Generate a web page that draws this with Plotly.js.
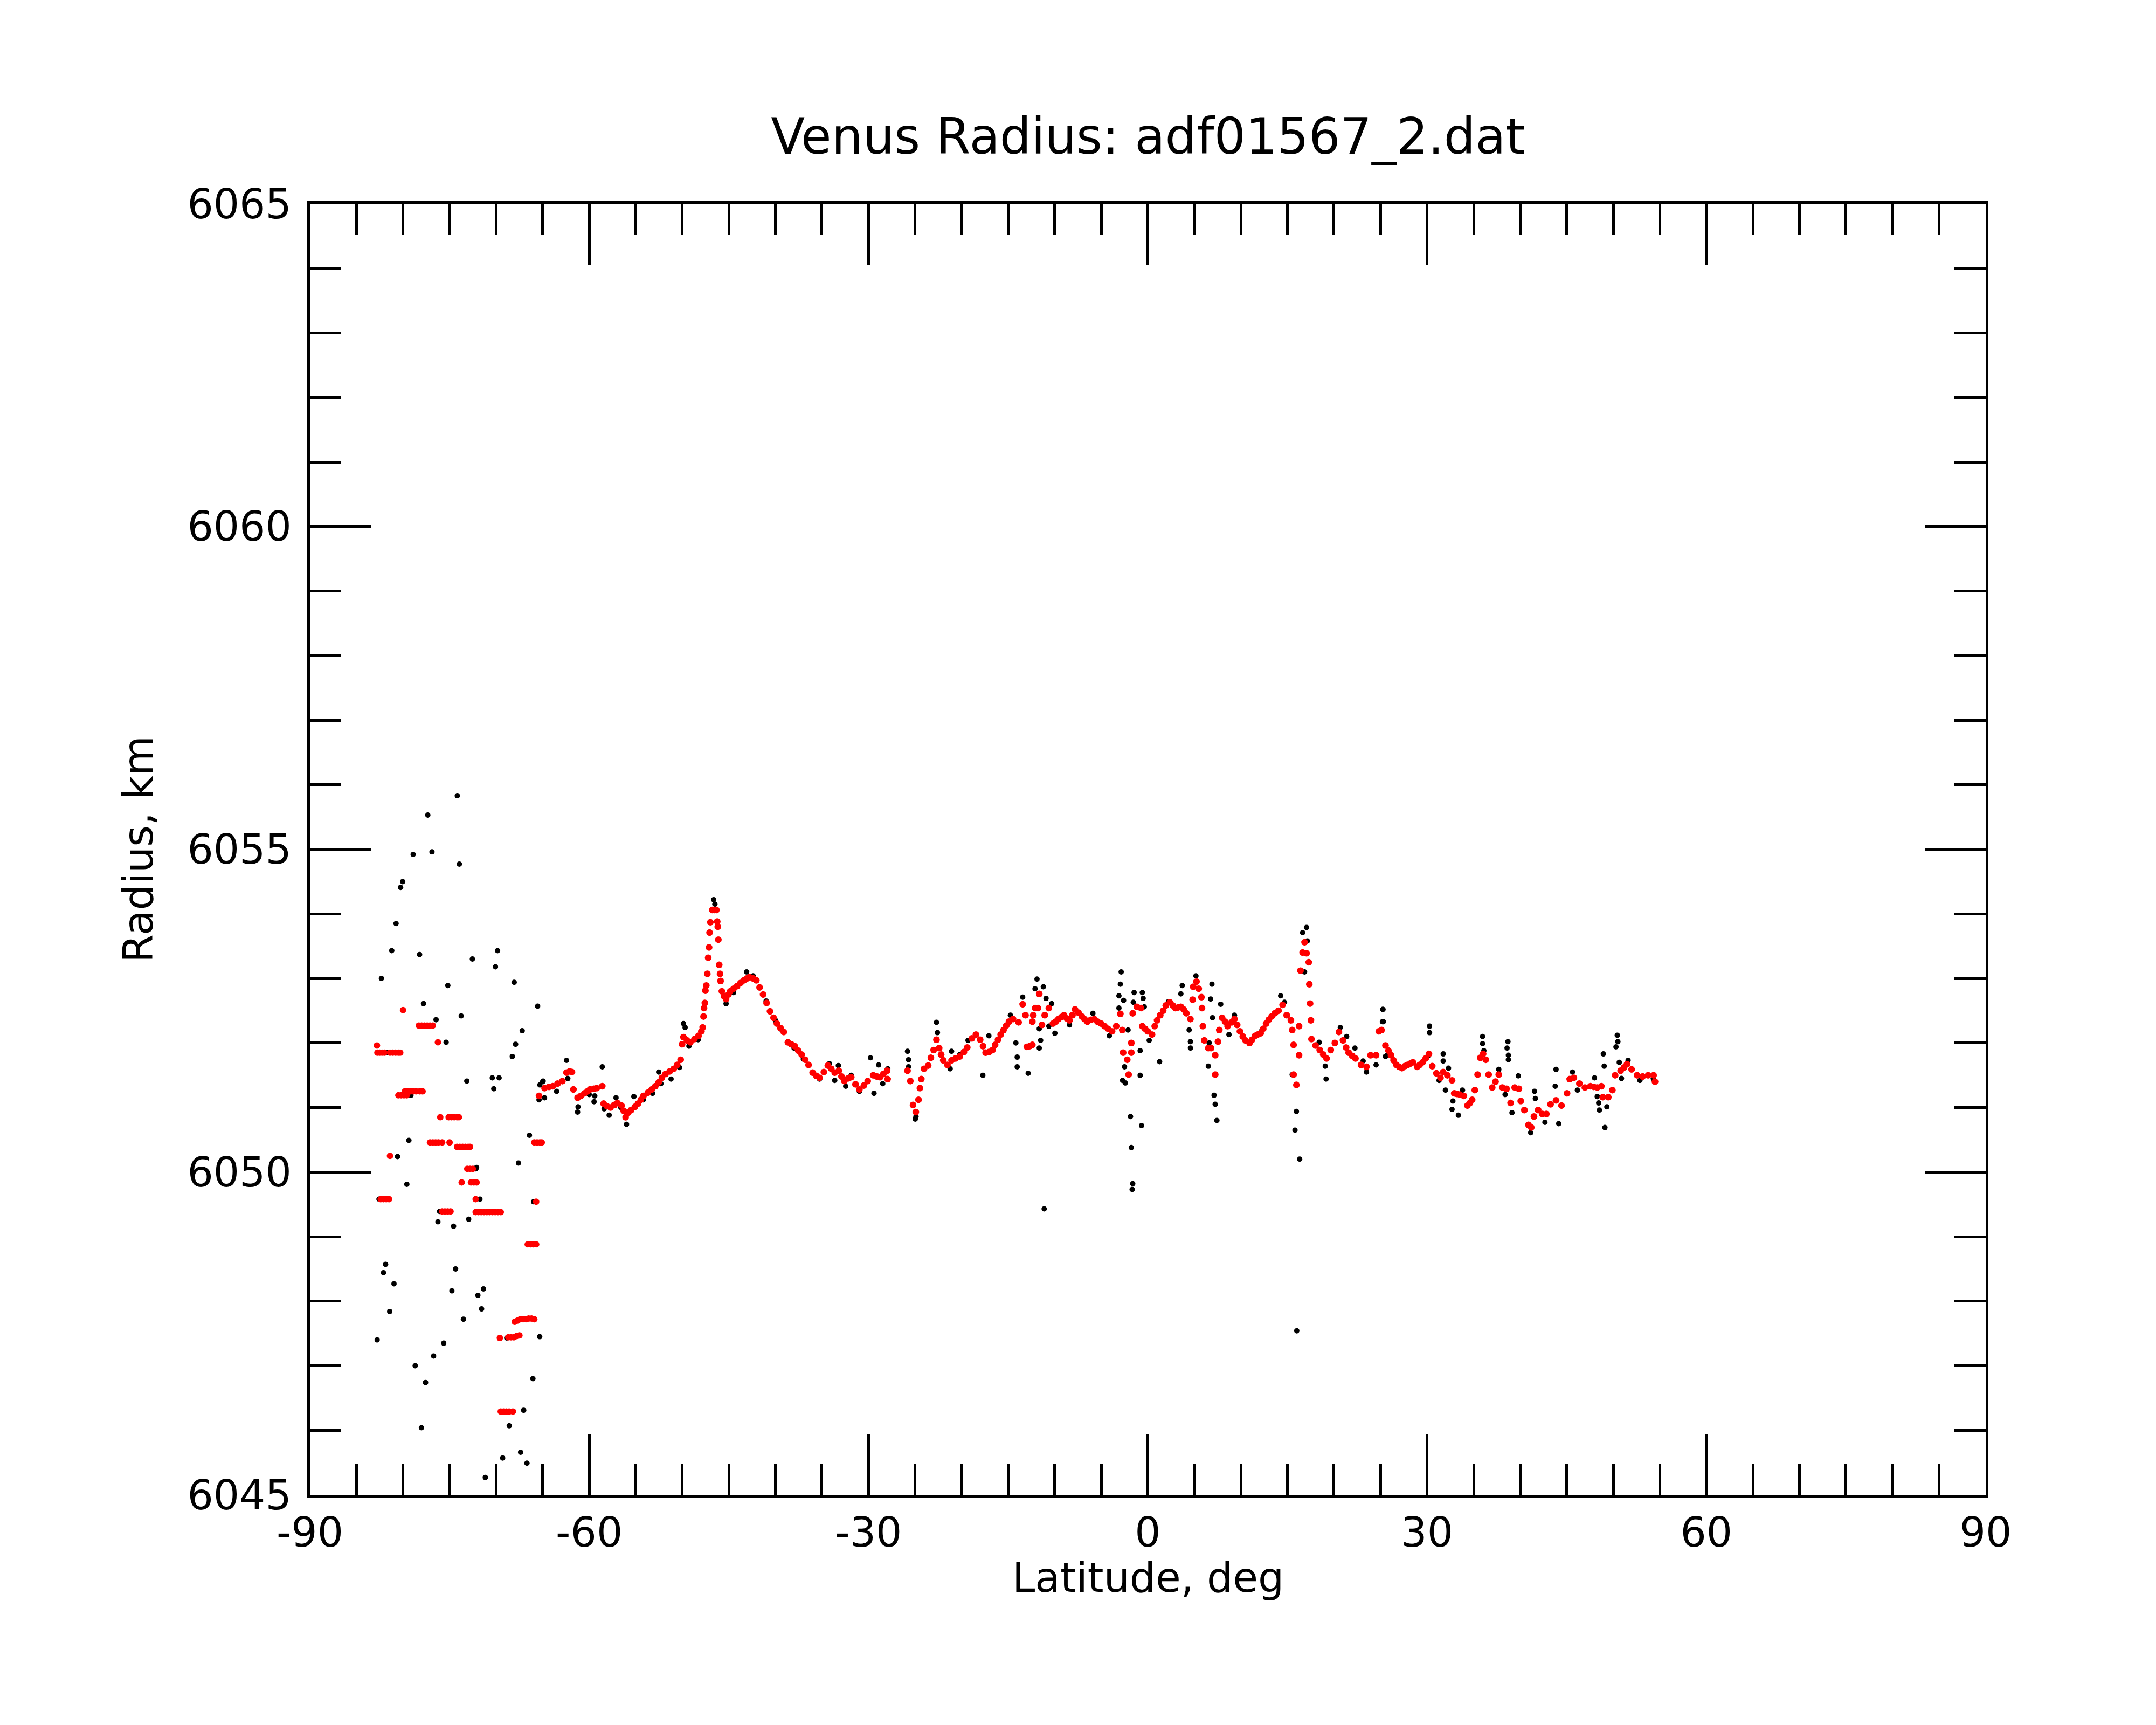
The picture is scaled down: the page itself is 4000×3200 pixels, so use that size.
<!DOCTYPE html>
<html>
<head>
<meta charset="utf-8">
<script src="https://cdn.plot.ly/plotly-3.0.1.min.js"></script>
<style>
  html, body { margin: 0; padding: 0; background: #fff; }
  #plot { width: 4000px; height: 3200px; }
</style>
</head>
<body>
<div id="plot"></div>
<script>
// red: filtered radius, step part (south polar region)
var redStepLat = [-82.8, -82.75, -82.5, -82.25, -82.0, -81.4, -81.1, -80.8, -80.5, -80.3,
  -80.0, -78.3, -78.0, -77.7, -77.4, -77.1, -76.8, -76.25,
  -80.5, -80.2, -79.9, -79.6, -79.8, -79.5, -79.2, -78.9, -78.6, -78.2, -77.9,
  -76.0, -75.1, -74.8, -74.5, -74.2, -74.0,
  -77.1, -76.8, -76.5, -76.2, -75.8, -75.0,
  -74.2, -73.9, -73.6, -73.3, -73.0, -72.8,
  -81.4, -73.1, -72.8, -72.5, -73.7, -72.7, -72.4, -72.1, -72.2,
  -72.2, -71.9, -71.6, -71.3, -71.0, -70.7, -70.4, -70.1, -69.8, -69.5,
  -82.4, -82.1, -81.8, -81.5, -75.8, -75.5, -75.2, -74.9,
  -65.9, -65.6, -65.3, -65.1, -65.7,
  -66.6, -66.3, -66.0, -65.7,
  -68.0, -67.7, -67.4, -67.1, -66.8, -66.5, -66.2, -65.9,
  -69.6, -68.7, -68.4, -68.1, -67.8, -67.5,
  -69.5, -69.2, -68.9, -68.6, -68.2];
var redStepRad = [6051.96, 6051.85, 6051.85, 6051.85, 6051.85, 6051.85, 6051.85, 6051.85, 6051.85, 6051.85,
  6052.51, 6052.27, 6052.27, 6052.27, 6052.27, 6052.27, 6052.27, 6052.01,
  6051.19, 6051.19, 6051.19, 6051.19, 6051.25, 6051.25, 6051.25, 6051.25, 6051.25, 6051.25, 6051.25,
  6050.85, 6050.85, 6050.85, 6050.85, 6050.85, 6050.85,
  6050.46, 6050.46, 6050.46, 6050.46, 6050.46, 6050.46,
  6050.39, 6050.39, 6050.39, 6050.39, 6050.39, 6050.39,
  6050.25, 6050.05, 6050.05, 6050.05, 6049.84, 6049.84, 6049.84, 6049.84, 6049.58,
  6049.38, 6049.38, 6049.38, 6049.38, 6049.38, 6049.38, 6049.38, 6049.38, 6049.38, 6049.38,
  6049.58, 6049.58, 6049.58, 6049.58, 6049.39, 6049.39, 6049.39, 6049.39,
  6050.46, 6050.46, 6050.46, 6050.46, 6049.54,
  6048.88, 6048.88, 6048.88, 6048.88,
  6047.68, 6047.70, 6047.72, 6047.72, 6047.72, 6047.73, 6047.73, 6047.72,
  6047.43, 6047.44, 6047.44, 6047.44, 6047.46, 6047.47,
  6046.29, 6046.29, 6046.29, 6046.29, 6046.29];

// red: filtered radius, continuous part
var redLat = [-65.39, -64.8, -64.3, -63.91, -63.4, -62.88, -62.44, -62.1, -61.85, -61.7,
  -61.25, -60.9, -60.52, -60.2, -59.92, -59.5, -59.19, -58.6, -58.45, -58.1,
  -57.71, -57.3, -56.97, -56.53, -56.3, -56.09, -55.8, -55.5, -55.1, -54.76,
  -54.45, -54.17, -53.7, -53.28, -52.9, -52.54, -52.2, -51.8, -51.35, -50.92,
  -50.55, -50.18, -50.03, -49.88, -49.5, -49.14, -48.7, -48.26, -47.95, -47.81,
  -47.72, -47.67, -47.58, -47.52, -47.43, -47.31, -47.22, -47.13, -47.07, -46.99,
  -46.78, -46.55, -46.34, -46.25, -46.19, -46.13, -46.04, -45.95, -45.89, -45.75,
  -45.5, -45.3, -45.05, -44.86, -44.5, -44.12, -43.75, -43.38, -43.05, -42.79,
  -42.4, -42.05, -41.7, -41.32, -40.95, -40.58, -40.2, -39.84, -39.45, -39.1,
  -38.66, -38.3, -37.92, -37.55, -37.18, -36.8, -36.44, -36.0, -35.6, -35.26,
  -34.8, -34.37, -34.0, -33.63, -33.19, -32.9, -32.6, -32.2, -31.86, -31.4,
  -30.98, -30.5, -30.09, -29.5, -29.1, -28.76, -28.4, -28.0, -27.95,
  -25.81, -25.51, -25.22, -24.92, -24.63, -24.48, -24.33, -24.03, -23.59, -23.3,
  -23.0, -22.7, -22.41, -22.2, -21.97, -21.52, -21.08, -20.65, -20.19, -19.75,
  -19.4, -18.9, -18.46, -18.01, -17.7, -17.42, -17.05, -16.68, -16.4, -16.09,
  -15.8, -15.5, -15.2, -14.91, -14.47, -13.88, -13.44, -13.14, -12.99, -12.7,
  -12.4, -12.4, -12.3, -12.1, -11.8, -11.66, -11.37, -11.07, -10.63, -10.19,
  -9.9, -9.6, -9.3, -9.0, -8.7, -8.41, -8.1, -7.82, -7.45, -7.08,
  -6.8, -6.49, -6.1, -5.75, -5.4, -5.02, -4.65, -4.28, -3.84, -3.39,
  -2.95, -2.74, -2.65, -2.21, -2.06, -1.77, -1.77, -1.62, -1.18, -0.73,
  -0.59, -0.3, 0.0, 0.45, 0.74, 1.0, 1.33, 1.65, 1.93, 2.37,
  2.7, 2.96, 3.25, 3.55, 3.85, 4.14, 4.58, 4.82, 4.88, 5.23,
  5.47, 5.76, 5.82, 5.91, 6.06, 6.5, 6.8, 7.24, 7.24, 7.54,
  7.68, 7.98, 8.3, 8.57, 9.0, 9.31, 9.6, 9.9, 10.2, 10.49,
  10.93, 11.2, 11.53, 11.8, 12.12, 12.4, 12.71, 13.0, 13.3, 13.65,
  14.04, 14.48, 14.92, 15.37, 15.51, 15.66, 15.66, 15.96, 16.25, 16.25,
  16.4, 16.63, 16.84, 17.05, 17.29, 17.35, 17.43, 17.52, 17.58, 18.02,
  18.47, 18.85, 19.2, 19.65, 20.09, 20.53, 20.97, 21.3, 21.57, 21.95,
  22.3, 22.9, 23.49, 23.93, 24.52, 24.82, 25.11, 25.53, 25.85, 26.12,
  26.4, 26.71, 27.0, 27.3, 27.6, 27.9, 28.2, 28.48, 28.93, 29.2,
  29.52, 29.85, 30.2, 30.55, 31.0, 31.44, 31.73, 32.18, 32.68, 32.92,
  33.2, 33.51, 33.95, 34.33, 34.6, 34.84, 35.13, 35.43, 35.72, 36.02,
  36.31, 36.61, 36.99, 37.35, 37.7, 38.08, 38.53, 38.97, 39.41, 39.86,
  40.06, 40.45, 40.89, 41.19, 41.48, 41.93, 42.37, 42.81, 43.26, 43.85,
  44.44, 45.03, 45.32, 45.77, 46.36, 46.95, 47.54, 47.9, 48.28, 48.72,
  48.87, 49.46, 49.9, 50.2, 50.79, 51.15, 51.47, 51.97, 52.56, 53.15,
  53.74, 54.33, 54.48];
var redRad = [6051.18, 6051.30, 6051.32, 6051.33, 6051.37, 6051.41, 6051.54, 6051.56, 6051.55, 6051.28,
  6051.15, 6051.18, 6051.22, 6051.25, 6051.28, 6051.29, 6051.30, 6051.33, 6051.06, 6051.02,
  6051.00, 6051.04, 6051.07, 6051.03, 6050.95, 6050.85, 6050.92, 6050.96, 6051.01, 6051.06,
  6051.12, 6051.18, 6051.23, 6051.28, 6051.33, 6051.39, 6051.46, 6051.52, 6051.56, 6051.60,
  6051.66, 6051.74, 6051.98, 6052.09, 6052.04, 6052.01, 6052.06, 6052.11, 6052.18, 6052.24,
  6052.41, 6052.54, 6052.62, 6052.81, 6052.89, 6053.07, 6053.32, 6053.48, 6053.71, 6053.87,
  6054.06, 6054.06, 6054.06, 6053.88, 6053.80, 6053.60, 6053.21, 6053.07, 6052.96, 6052.80,
  6052.72, 6052.68, 6052.75, 6052.80, 6052.84, 6052.88, 6052.93, 6052.97, 6053.00, 6053.02,
  6053.00, 6052.97, 6052.86, 6052.75, 6052.62, 6052.49, 6052.39, 6052.30, 6052.23, 6052.17,
  6052.01, 6051.98, 6051.95, 6051.88, 6051.82, 6051.74, 6051.66, 6051.54, 6051.49, 6051.46,
  6051.55, 6051.65, 6051.60, 6051.54, 6051.57, 6051.48, 6051.41, 6051.45, 6051.47, 6051.36,
  6051.28, 6051.34, 6051.41, 6051.50, 6051.48, 6051.47, 6051.52, 6051.57, 6051.44,
  6051.57, 6051.41, 6051.04, 6050.93, 6051.12, 6051.30, 6051.44, 6051.60, 6051.65, 6051.77,
  6051.89, 6052.05, 6051.92, 6051.82, 6051.73, 6051.66, 6051.73, 6051.76, 6051.79, 6051.86,
  6051.93, 6052.07, 6052.13, 6052.05, 6051.95, 6051.85, 6051.86, 6051.89, 6051.97, 6052.05,
  6052.13, 6052.20, 6052.27, 6052.33, 6052.37, 6052.32, 6052.60, 6052.43, 6051.94, 6051.95,
  6051.97, 6052.33, 6052.43, 6052.54, 6052.54, 6052.76, 6052.28, 6052.43, 6052.54, 6052.30,
  6052.33, 6052.37, 6052.40, 6052.43, 6052.38, 6052.35, 6052.43, 6052.52, 6052.47, 6052.41,
  6052.37, 6052.33, 6052.36, 6052.37, 6052.33, 6052.30, 6052.26, 6052.22, 6052.18, 6052.26,
  6052.45, 6052.20, 6051.85, 6051.74, 6051.51, 6052.00, 6051.85, 6052.46, 6052.56, 6052.54,
  6052.26, 6052.22, 6052.18, 6052.13, 6052.26, 6052.35, 6052.43, 6052.50, 6052.58, 6052.63,
  6052.58, 6052.54, 6052.55, 6052.56, 6052.52, 6052.46, 6052.37, 6052.67, 6052.87, 6052.95,
  6052.84, 6052.71, 6052.54, 6052.26, 6052.04, 6051.92, 6051.92, 6051.81, 6051.51, 6052.02,
  6052.20, 6052.39, 6052.33, 6052.26, 6052.32, 6052.37, 6052.28, 6052.18, 6052.10, 6052.04,
  6052.00, 6052.05, 6052.11, 6052.13, 6052.15, 6052.22, 6052.30, 6052.36, 6052.41, 6052.46,
  6052.50, 6052.59, 6052.43, 6052.35, 6052.20, 6051.97, 6051.51, 6051.35, 6052.26, 6051.81,
  6053.12, 6053.40, 6053.56, 6053.39, 6053.25, 6052.91, 6052.61, 6052.35, 6052.06, 6051.96,
  6051.89, 6051.82, 6051.76, 6051.89, 6052.00, 6052.17, 6052.04, 6051.93, 6051.85, 6051.80,
  6051.76, 6051.66, 6051.63, 6051.81, 6051.81, 6052.18, 6052.20, 6051.96, 6051.88, 6051.81,
  6051.73, 6051.66, 6051.63, 6051.61, 6051.64, 6051.66, 6051.68, 6051.70, 6051.63, 6051.66,
  6051.70, 6051.76, 6051.83, 6051.64, 6051.53, 6051.46, 6051.55, 6051.50, 6051.42, 6051.22,
  6051.21, 6051.20, 6051.18, 6051.03, 6051.07, 6051.12, 6051.27, 6051.51, 6051.77, 6051.83,
  6051.74, 6051.51, 6051.31, 6051.40, 6051.51, 6051.31, 6051.29, 6051.07, 6051.31, 6051.29,
  6051.10, 6050.96, 6050.73, 6050.69, 6050.86, 6050.96, 6050.90, 6050.90, 6051.05, 6051.11,
  6051.03, 6051.22, 6051.44, 6051.46, 6051.37, 6051.31, 6051.33, 6051.32, 6051.31, 6051.33,
  6051.16, 6051.16, 6051.27, 6051.50, 6051.57, 6051.62, 6051.67, 6051.59, 6051.50, 6051.48,
  6051.50, 6051.50, 6051.40];

// black: raw radius, south polar scatter
var blkStepLat = [-74.17, -77.34, -78.91, -76.89, -73.95, -80.26, -80.04, -80.75, -81.21, -78.22,
  -69.85, -70.07, -72.55, -82.32, -75.19, -68.06, -77.80, -73.75, -76.45, -65.54,
  -67.20, -75.37, -67.91, -68.26, -81.68, -73.15, -70.41, -69.68, -70.25, -79.15,
  -78.5, -66.42, -79.37, -80.59, -67.60, -72.18, -79.59, -82.58, -71.74, -76.07,
  -76.25, -74.57, -72.95, -65.98, -81.87, -82.10, -80.97, -74.35, -74.75, -71.96,
  -71.36, -71.56, -81.43, -73.51, -82.78, -75.63, -68.86, -65.32, -76.72, -78.69,
  -66.05, -77.58, -67.04, -68.59, -78.02, -69.30, -67.37, -66.69, -71.16, -75.1,
  -72.1, -65.3, -65.0];
var blkStepRad = [6055.83, 6055.53, 6054.92, 6054.96, 6054.77, 6054.41, 6054.50, 6053.85, 6053.43, 6053.37,
  6053.43, 6053.18, 6053.30, 6053.00, 6052.89, 6052.94, 6052.61, 6052.42, 6052.36, 6052.57,
  6052.19, 6052.01, 6051.98, 6051.79, 6051.85, 6051.41, 6051.46, 6051.46, 6051.29, 6051.19,
  6051.25, 6050.57, 6050.49, 6050.24, 6050.14, 6050.05, 6049.81, 6049.58, 6049.58, 6049.39,
  6049.23, 6049.16, 6049.27, 6049.54, 6048.57, 6048.44, 6048.27, 6048.50, 6048.16, 6048.09,
  6048.19, 6047.88, 6047.84, 6047.72, 6047.40, 6047.35, 6047.43, 6047.45, 6047.15, 6047.00,
  6046.80, 6046.74, 6046.31, 6046.07, 6046.04, 6045.57, 6045.66, 6045.49, 6045.27, 6050.85,
  6050.07, 6051.35, 6051.40];

// black: raw radius along the track
var blkLat = [-65.39, -64.95, -64.8, -63.5, -62.44, -62.3, -61.25, -61.2, -60.0, -59.48,
  -59.4, -58.6, -58.4, -57.86, -57.12, -56.6, -55.99, -55.2, -54.2, -53.2,
  -52.54, -52.3, -51.21, -50.3, -49.88, -49.7, -49.29, -48.3, -46.63, -46.5,
  -45.3, -44.5, -43.09, -42.4, -41.0, -40.0, -39.3, -38.0, -37.0, -35.26,
  -34.2, -33.63, -33.24, -32.45, -31.86, -30.98, -29.79, -29.41, -28.91, -28.47,
  -27.93, -25.81, -25.7, -25.7, -24.98, -24.9, -22.7, -22.6, -21.23, -21.08,
  -20.19, -19.31,
  -17.72, -17.07, -14.76, -13.44, -14.17, -14.03, -14.03, -12.85, -11.9, -12.11,
  -11.22, -10.93, -10.33, -10.63, -11.66, -11.66, -11.51, -9.98, -11.13, -8.41,
  -5.9, -4.13, -2.86, -2.95, -3.1, -2.6, -3.1, -2.12, -2.71, -2.42,
  -2.5, -1.86, -1.77, -1.62, -1.68, -0.67, -0.82, -0.82, -1.47, -0.59,
  -0.5, -0.38, -1.56, 0.15, 1.27, 2.22, 3.7, 3.55, 5.17, 4.44,
  4.58, 4.58, 6.89, 6.74, 6.95, 6.59, 6.5, 7.12, 7.24, 7.42,
  7.83, 8.72, 9.31, 12.17, 14.27, 14.68, 15.51, 15.96, 15.81, 16.31,
  16.0, 17.05, 16.63, 17.14, 16.84, 18.41, 19.06, 19.15, 20.68, 21.36,
  22.25, 23.13, 23.49, 25.26, 25.2, 24.52, 25.7,
  25.24, 25.3, 25.53, 30.26, 30.26, 30.1, 31.73, 31.73, 31.97, 32.3,
  32.68, 32.77, 33.36, 33.8, 31.29, 35.96, 35.96, 36.1, 37.7, 38.68,
  38.59, 38.73, 38.73, 38.38, 39.12, 39.8, 41.13, 41.54, 41.63, 42.66,
  44.14, 43.85, 43.76, 45.62, 46.15, 47.98, 48.93, 49.02, 48.28, 48.43,
  48.51, 49.31, 49.1, 50.43, 50.49, 50.29, 50.64, 50.88, 51.59, 52.86,
  54.3];
var blkRad = [6051.12, 6051.41, 6051.15, 6051.25, 6051.73, 6051.45, 6050.93, 6051.01, 6051.20, 6051.09,
  6051.18, 6051.63, 6050.98, 6050.88, 6051.15, 6051.00, 6050.74, 6051.17, 6051.12, 6051.22,
  6051.55, 6051.37, 6051.44, 6051.62, 6052.30, 6052.24, 6051.95, 6052.05, 6054.22, 6054.15,
  6052.61, 6052.78, 6053.10, 6053.04, 6052.65, 6052.35, 6052.20, 6051.92, 6051.75, 6051.44,
  6051.68, 6051.42, 6051.65, 6051.33, 6051.50, 6051.25, 6051.77, 6051.22, 6051.66, 6051.37,
  6051.60, 6051.87, 6051.74, 6051.63, 6050.82, 6050.86, 6052.32, 6052.16, 6051.60, 6051.87,
  6051.82, 6052.04,
  6051.50, 6052.11, 6052.43, 6052.71, 6052.00, 6051.78, 6051.63, 6051.53, 6052.99, 6052.84,
  6052.87, 6052.69, 6052.61, 6052.26, 6052.22, 6051.92, 6052.04, 6052.15, 6049.43, 6052.28,
  6052.46, 6052.11, 6053.10, 6052.91, 6052.73, 6052.66, 6052.54, 6052.20, 6051.42, 6051.38,
  6051.63, 6050.86, 6050.38, 6049.82, 6049.73, 6050.72, 6051.50, 6051.88, 6052.78, 6052.78,
  6052.69, 6052.56, 6052.63, 6052.04, 6051.71, 6052.64, 6052.89, 6052.76, 6053.04, 6052.20,
  6052.02, 6051.92, 6052.91, 6052.68, 6052.39, 6052.00, 6051.64, 6051.19, 6051.05, 6050.80,
  6052.60, 6052.13, 6052.43, 6052.18, 6052.73, 6052.63, 6051.51, 6050.94, 6050.65, 6050.20,
  6047.54, 6053.79, 6053.71, 6053.58, 6053.10, 6052.01, 6051.64, 6051.44, 6052.24, 6052.10,
  6051.92, 6051.72, 6051.55, 6052.52, 6052.33, 6051.66, 6051.81,
  6052.52, 6052.33, 6051.79, 6052.26, 6052.16, 6051.80, 6051.83, 6051.72, 6051.27, 6051.61,
  6050.97, 6051.10, 6050.88, 6051.27, 6051.42, 6052.10, 6051.99, 6051.88, 6051.59, 6052.02,
  6051.92, 6051.81, 6051.74, 6051.20, 6050.92, 6051.49, 6050.61, 6051.25, 6051.14, 6050.77,
  6050.75, 6051.59, 6051.33, 6051.55, 6051.27, 6051.46, 6051.83, 6051.64, 6051.17, 6051.07,
  6050.96, 6051.01, 6050.69, 6052.12, 6052.02, 6051.94, 6051.70, 6051.45, 6051.73, 6051.42,
  6051.45];

var xTickVals = [-90, -60, -30, 0, 30, 60, 90];
var yTickVals = [6045, 6050, 6055, 6060, 6065];

var black = {
  x: blkStepLat.concat(blkLat),
  y: blkStepRad.concat(blkRad),
  type: 'scatter',
  mode: 'markers',
  marker: {color: '#000000', size: 10},
  hoverinfo: 'skip'
};
var redSteps = {
  x: redStepLat,
  y: redStepRad,
  type: 'scatter',
  mode: 'markers',
  marker: {color: '#ff0000', size: 12},
  hoverinfo: 'skip'
};
var red = {
  x: redLat,
  y: redRad,
  type: 'scatter',
  mode: 'markers',
  marker: {color: '#ff0000', size: 12.5},
  hoverinfo: 'skip'
};

var tickFont = {family: 'DejaVu Sans', size: 76, color: '#000'};

var axisCommon = {
  ticks: 'inside',
  ticklen: 113,
  tickwidth: 5,
  tickcolor: '#000',
  showline: true,
  linewidth: 5,
  linecolor: '#000',
  mirror: 'allticks',
  showgrid: false,
  zeroline: false,
  tickfont: tickFont
};

var layout = {
  width: 4000,
  height: 3200,
  autosize: false,
  showlegend: false,
  paper_bgcolor: '#fff',
  plot_bgcolor: '#fff',
  font: {family: 'DejaVu Sans', color: '#000'},
  margin: {l: 575, r: 316, t: 378, b: 427, pad: 0},
  title: {
    text: 'Venus Radius: adf01567_2.dat',
    font: {family: 'DejaVu Sans', size: 92, color: '#000'},
    x: 0.5325, xref: 'container', xanchor: 'center',
    y: 0.921, yref: 'container', yanchor: 'middle'
  },
  xaxis: Object.assign({}, axisCommon, {
    range: [-90, 90],
    tickmode: 'array',
    tickvals: xTickVals,
    ticktext: xTickVals.map(String),
    minor: {dtick: 5, tick0: -90, ticks: 'inside', ticklen: 58, tickwidth: 5, tickcolor: '#000', showgrid: false}
  }),
  yaxis: Object.assign({}, axisCommon, {
    range: [6045, 6065],
    tickmode: 'array',
    tickvals: yTickVals,
    ticktext: yTickVals.map(String),
    ticklabelstandoff: 14,
    minor: {dtick: 1, tick0: 6045, ticks: 'inside', ticklen: 58, tickwidth: 5, tickcolor: '#000', showgrid: false},
    title: {text: 'Radius, km', font: {family: 'DejaVu Sans', size: 76, color: '#000'}, standoff: 40}
  }),
  annotations: [{
    text: 'Latitude, deg',
    xref: 'paper', yref: 'paper',
    x: 0.5, y: -0.064,
    xanchor: 'center', yanchor: 'middle',
    showarrow: false,
    font: {family: 'DejaVu Sans', size: 76, color: '#000'}
  }]
};

Plotly.newPlot('plot', [black, redSteps, red], layout, {staticPlot: true, displayModeBar: false});
</script>
</body>
</html>
